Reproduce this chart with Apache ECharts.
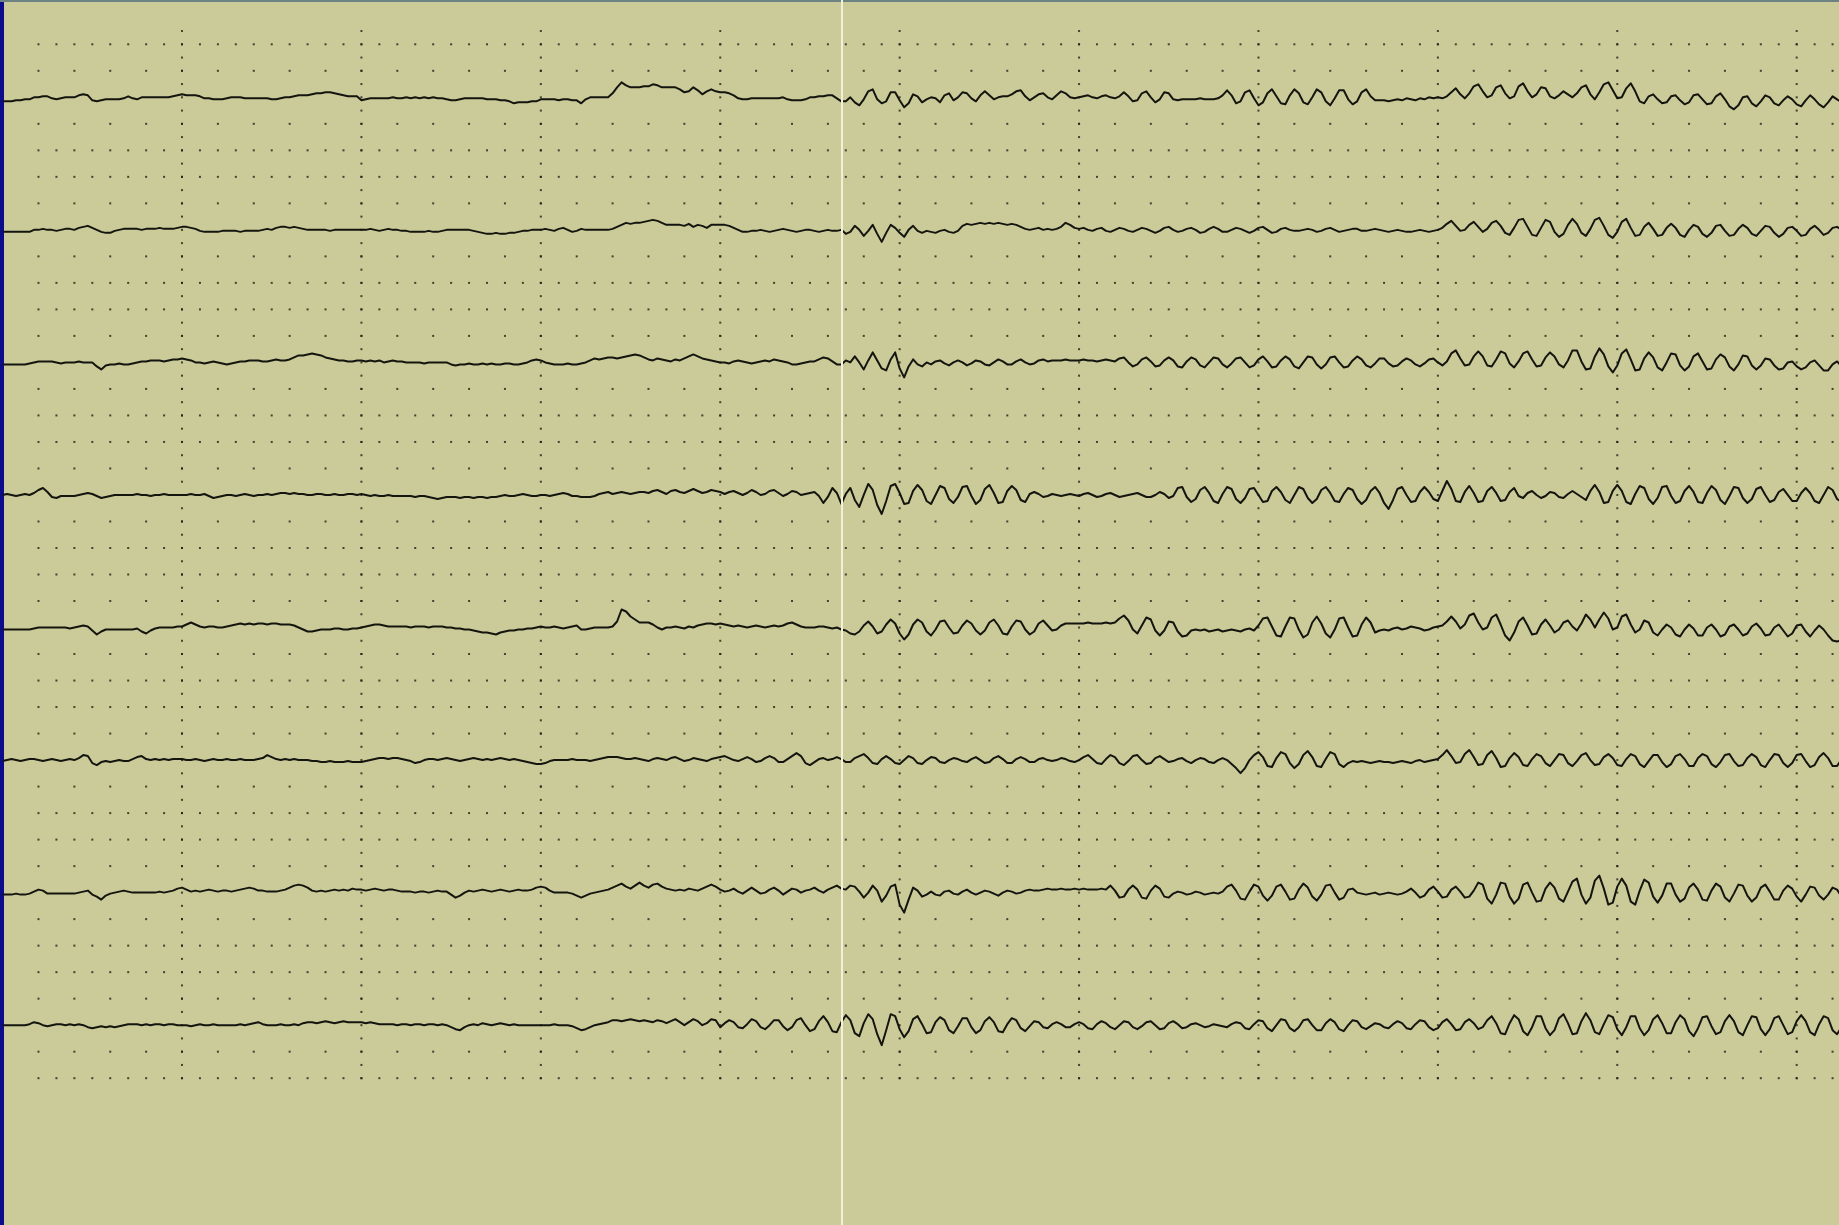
<!DOCTYPE html>
<html><head><meta charset="utf-8">
<style>html,body{margin:0;padding:0;background:#cacb99;overflow:hidden}#c{width:1839px;height:1225px}</style>
<script src="https://cdn.jsdelivr.net/npm/echarts@6/dist/echarts.min.js"></script>
</head><body><div id="c"></div>
<script>
// ---- data: 8 EEG channels, one sample every 25 ms, amplitude in display units (1 unit = 1 px up)
const SAMPLE_STEP = 0.025;      // seconds between samples
const CURSOR_T = 4.68;          // time of the cursor line (s)
const SECOND_TICKS = [1,2,3,4,5,6,7,8,9,10];

const ch1 = [
-4,-4,-4,-3,-3,-2,-2,0,0,1, 1,-1,-2,-1,0,0,0,2,3,2, -3,-4,-3,-2,-2,-2,-2,-1,1,-1, -2,0,0,0,0,0,0,0,1,2,
3,2,2,2,1,-1,-1,-2,-2,-2, -1,0,0,0,-1,-1,-1,-1,-1,-1, -2,-2,-1,0,0,1,2,2,2,3, 4,4,5,5,4,3,2,1,1,1,
-3,-2,-1,-1,-1,-1,-1,0,-1,-1, 0,-1,0,-1,0,-1,0,-1,-1,-2, -3,-3,-2,-1,-1,-1,-1,-1,-2,-2, -2,-3,-3,-4,-6,-5,-5,-5,-4,-4,
-2,-2,-2,-2,-3,-2,-2,-3,-3,-6, -2,0,0,0,0,0,4,10,15,12, 10,10,10,11,11,13,12,10,10,10, 10,8,5,6,10,7,3,6,8,6,
5,5,4,2,-1,-2,-2,-1,-1,-1, -1,-1,-1,-1,0,-2,-3,-3,-3,-2, 0,0,1,1,2,2,-1,-4,-4,0, -5,-8,-2,6,8,-2,-6,-4,5,5,
-3,-10,-6,3,1,-5,-2,0,-1,-5, 2,4,-3,0,5,4,-1,-4,2,6, 2,-2,0,1,1,3,6,7,1,-3, 0,3,4,0,-2,2,6,4,0,-1,
0,1,2,0,-1,1,2,0,-1,1, 5,1,-4,-3,4,6,0,-5,-2,5, 4,-2,-3,-2,-2,-2,-2,-1,-2,-2, -2,-1,2,7,2,-6,-4,5,7,-1,
-8,-5,4,8,1,-6,-7,2,8,4, -5,-7,0,8,5,-4,-8,-1,7,7, -2,-7,-4,5,8,1,-3,-3,-3,-4, -3,-2,-3,-1,-2,-3,-1,-2,0,-1,
0,-1,1,5,9,3,-1,4,11,13, 6,0,2,10,12,4,-1,1,11,14, 6,0,3,10,9,1,-1,2,6,3, 0,4,10,12,3,-2,5,13,15,7,
-1,0,9,14,6,-4,-6,1,3,-2, -6,-5,1,2,-3,-7,-5,2,3,-2, -7,-6,1,4,-2,-9,-12,-8,0,1, -6,-9,-4,2,0,-6,-8,-3,1,-2,
-7,-9,-3,2,-2,-7,-10,-5,1,-2,-5];

const ch2 = [
-2,-2,-2,-2,-2,-2,-2,0,0,1, 0,0,-1,0,1,1,0,2,3,4, 2,0,-2,-3,-3,-1,0,1,1,1, 1,0,1,1,1,2,1,1,1,2,
3,3,2,1,-1,-2,-2,-2,-2,-1, -1,-1,-1,-2,-1,-1,-1,-1,0,1, 0,2,3,3,2,3,2,1,0,0, 0,0,0,-1,0,0,0,0,0,0,
0,0,1,0,-1,0,1,0,0,-1, -1,-2,-2,-2,-2,-1,-2,-2,-1,0, 0,0,0,0,0,-1,-2,-3,-4,-4, -3,-4,-4,-3,-3,-2,-1,-1,0,0,
0,1,0,-1,1,2,0,-2,-1,1, 0,0,0,0,0,0,1,3,5,7, 6,7,7,8,9,10,9,7,5,5, 5,5,4,6,3,5,4,2,5,5,
5,5,4,2,0,-2,-2,-1,-1,0, -1,-2,-1,0,1,0,-1,-2,-1,0, 0,-1,-2,-1,0,-1,-1,0,-4,-2, 4,0,-6,-1,5,-4,-12,-3,5,2,
-3,-7,0,4,-1,-3,-1,-2,-3,-1, 0,-2,-3,-1,4,6,5,6,7,6, 7,6,7,6,5,6,5,3,1,0, 1,2,0,1,0,1,3,7,5,2,
1,2,0,-1,1,2,-1,-2,0,2, 1,-1,-2,0,2,1,-1,-3,-1,2, 3,0,-2,-1,1,2,0,-3,-2,1, 3,1,-2,-2,0,2,1,-1,-3,-1,
2,3,0,-3,-2,1,2,0,-1,-1, 0,1,0,-2,-1,1,2,0,-2,-1, 0,1,1,-1,-1,0,1,0,-1,-2, -1,0,-1,-2,-2,-1,0,-1,-2,-1,
0,2,6,9,4,-1,0,5,8,3, -2,1,7,9,4,-3,-5,2,10,11, 3,-5,-6,2,10,8,-2,-7,-4,5, 11,6,-3,-6,1,10,12,4,-5,-8,
-2,8,11,2,-6,-5,3,7,1,-6, -5,2,6,2,-5,-7,0,5,3,-4, -7,-3,4,5,-1,-6,-5,1,5,2, -4,-6,-1,4,3,-3,-7,-4,2,3,
-1,-6,-5,1,4,0,-5,-3,2,3,0];

const ch3 = [
-2,-2,-2,-2,-2,-2,-1,0,1,1, 1,1,0,-1,0,0,0,1,0,0, 0,-4,-7,-3,-2,-2,-1,-2,-2,-1, 0,1,1,2,2,2,1,2,3,3,
4,3,2,0,0,-1,0,1,0,-1, -2,-1,0,1,1,2,2,2,1,1, 2,3,2,2,3,5,7,7,8,9, 8,7,5,4,3,2,2,1,1,2,
2,1,2,1,2,0,1,2,1,1, 0,0,0,0,-1,0,0,0,0,0, -2,-3,-2,-2,-1,-2,-2,-1,-2,-1, -2,-2,-1,-1,-2,-2,-1,0,2,3,
2,0,-1,-2,-2,-2,-1,-2,-2,-1, 0,2,4,3,4,5,5,4,5,6, 7,8,7,5,3,2,4,3,2,1, 3,2,4,6,8,6,4,3,2,1,
0,0,-1,1,2,1,0,-1,0,1, 2,1,3,2,1,0,-2,-2,-1,0, 1,1,3,5,4,1,-2,-2,2,0, 6,0,-7,2,10,2,-6,-8,3,10,
-6,-15,-4,3,-2,-4,0,-2,1,2, -1,-3,0,2,0,-3,-1,2,1,-2, -3,0,3,1,-2,-2,1,3,0,-2, -1,2,3,1,2,2,2,3,2,2,
2,3,2,2,1,2,3,2,1,4, 5,0,-4,-2,3,5,1,-4,-3,2, 5,2,-4,-5,1,5,3,-3,-5,0, 5,4,-2,-5,-1,4,5,0,-5,-3,
3,6,1,-5,-4,2,6,3,-4,-6, 0,6,5,-2,-6,-2,5,6,0,-5, -4,2,6,3,-3,-5,-1,4,4,-1, -4,-3,1,4,2,-2,-4,-1,3,4,
0,-3,1,9,12,4,-3,-2,6,11, 6,-3,-4,3,11,9,-1,-5,1,9, 11,3,-4,-3,5,10,6,-2,-5,2, 12,12,1,-7,-6,6,14,8,-4,-10,
-3,9,13,3,-8,-7,4,10,5,-5, -8,0,9,8,-3,-8,-4,6,9,1, -7,-6,3,8,5,-4,-8,-2,7,6, -3,-7,-3,4,3,-3,-7,-6,0,1,
-4,-7,-5,0,2,-3,-8,-8,-2,1,-4];

const ch4 = [
0,1,0,-1,0,1,0,2,5,7, 3,-2,-3,-1,-1,-1,-1,0,1,2, 1,-1,-3,-2,-1,0,0,0,0,0, 1,0,0,-1,0,0,1,0,0,0,
0,0,1,0,0,1,-1,-3,-2,-1, 0,0,-1,0,1,0,-1,0,0,1, 0,1,2,2,1,2,1,1,0,0, 1,1,0,0,1,0,0,1,1,0,
1,0,-1,0,-1,-1,0,-1,-1,-1, -1,-1,-2,-1,-1,-2,-3,-4,-3,-2, -2,-2,-3,-2,-2,-3,-2,-2,-3,-2, -2,-1,0,-1,-1,0,1,0,-1,-1,
0,0,-1,0,1,2,1,-1,-1,-2, -2,-2,-1,1,2,3,1,2,3,2, 1,2,3,3,2,4,5,3,1,4, 5,3,2,4,6,4,2,3,5,4,
3,1,3,4,2,0,2,5,3,0, 1,4,5,2,-1,1,4,3,0,1, 2,3,-1,-8,-2,7,2,-9,1,7, -5,-12,0,11,5,-10,-19,-6,9,11,
2,-9,-8,4,10,5,-6,-9,0,9, 7,-4,-8,-2,8,9,-1,-9,-5,6, 10,2,-8,-7,4,9,5,-5,-7,1, 3,1,-2,-1,1,0,-1,0,1,0,
-1,1,2,0,-2,-1,1,2,0,-2, -1,0,1,2,0,-2,-2,0,3,1, -3,-1,7,8,-2,-7,-4,5,8,2, -6,-8,1,8,6,-4,-8,-3,6,7,
0,-7,-6,4,8,3,-5,-8,0,8, 6,-3,-8,-4,5,8,2,-6,-7,1, 7,5,-4,-9,-5,4,8,2,-8,-14, -5,6,8,0,-7,-6,3,8,3,-4,
-6,4,14,6,-6,-7,3,9,2,-7, -6,4,8,2,-6,-5,3,7,-1,-3, 2,4,0,-3,-1,3,2,-2,-3,1, 4,1,-2,-5,4,10,3,-8,-7,4,
10,4,-7,-9,1,9,7,-4,-9,-3, 8,9,-1,-8,-6,4,9,3,-7,-8, 2,9,5,-5,-9,-1,8,7,-3,-8, -4,6,8,0,-7,-5,3,6,0,-6,
-6,2,7,2,-6,-8,0,8,5,-4,-7];

const ch5 = [
-2,-2,-2,-2,-2,-2,-2,-1,0,0, 0,0,0,0,0,-1,0,1,2,1, -3,-7,-4,-2,-2,-2,-2,-2,-2,-2, -1,-4,-6,-3,-1,0,0,0,0,1,
1,3,5,3,1,0,1,1,0,0, 1,2,3,4,3,4,3,4,4,3, 4,4,3,3,3,2,0,-2,-4,-4, -3,-2,-2,-2,-1,-1,-2,-2,-1,-1,
0,1,2,3,3,2,1,1,1,1, 1,0,1,1,1,0,1,1,1,0, 0,-1,-1,-2,-2,-3,-4,-5,-5,-6, -7,-5,-4,-3,-3,-2,-2,-1,-1,0,
1,0,0,1,0,-1,0,1,2,-2, -2,-1,0,0,0,0,1,6,18,16, 11,8,5,5,5,3,0,-2,0,0, 1,0,-1,1,0,2,3,4,4,3,
4,3,2,1,2,1,0,1,2,1, 0,1,2,1,2,4,5,3,1,0, 0,0,1,1,0,-1,0,-2,-3,-6, -7,-4,2,6,1,-6,-4,3,8,4,
-6,-12,-7,3,8,5,-4,-8,-2,6, 7,0,-6,-5,2,7,4,-3,-7,-3, 5,8,2,-6,-7,1,7,6,-2,-7, -4,4,7,2,-3,-2,2,4,4,4,
4,4,5,4,4,4,5,4,5,9, 12,7,-2,-6,2,10,8,-3,-8,-3, 6,5,-4,-9,-8,-3,-2,-3,-2,-4, -3,-2,-4,-3,-2,-3,-4,-2,-1,-3,
2,9,10,1,-8,-9,1,10,9,-2, -10,-7,5,11,4,-6,-10,-2,9,10, 0,-9,-8,3,10,5,-5,-3,-2,-3, -1,0,-2,-1,1,0,-1,-3,-2,0,
1,2,6,11,6,-1,3,12,14,5, -2,0,10,13,3,-8,-13,-5,6,10, 2,-7,-6,3,8,2,-5,-2,5,7, 1,-3,4,13,8,0,8,15,9,-2,
0,11,13,3,-5,-2,7,5,-5,-8, -2,3,0,-7,-9,-2,3,-1,-8,-8, 0,3,-2,-9,-7,1,3,-2,-8,-6, 1,4,-1,-8,-7,0,3,-3,-9,-6,
2,3,-4,-9,-3,2,-2,-8,-13,-14,-13];

const ch6 = [
-1,0,1,0,-1,0,1,1,0,-1, 0,1,0,-1,0,1,0,2,5,4, -3,-5,-2,-1,-2,-1,0,-1,-1,1, 3,4,1,0,1,0,1,0,1,1,
1,0,0,1,0,-1,0,1,0,0, 1,0,0,1,0,0,0,1,2,5, 3,1,0,1,0,1,0,0,0,-1, -1,-2,-2,-1,-2,-2,-2,-1,-2,-2,
-2,-1,0,1,2,2,1,2,2,1, 0,-1,-3,-2,0,1,1,0,1,2, 1,0,-1,0,1,2,1,0,1,0, 1,2,1,0,1,0,-1,-2,-3,-4,
-4,-3,-1,0,0,0,0,1,0,0, 0,-1,0,1,2,3,3,3,2,1, 1,2,1,0,-1,1,2,1,0,2, 3,1,-1,0,2,1,0,-1,1,2,
3,4,2,0,-1,1,3,1,-2,-1, 2,4,2,-2,-2,1,4,7,4,-3, -5,-2,1,2,0,1,3,1,-2,-2, 2,4,6,2,-3,-4,1,4,1,-3,
-4,0,4,2,-3,-4,0,3,2,-2, -3,0,2,1,-1,-2,1,3,0,-3, -2,2,4,1,-3,-3,1,3,1,-2, -2,1,2,0,-1,0,2,1,-1,-2,
0,3,5,1,-3,-4,1,5,3,-3, -5,-1,4,5,0,-4,-3,2,4,1, -2,-1,1,2,-1,-3,0,2,1,-2, -3,0,2,0,-4,-8,-13,-8,0,5,
8,3,-6,-7,2,8,6,-3,-8,-4, 5,9,3,-6,-7,1,8,6,-4,-7, -3,-1,-2,-1,-2,-3,-2,-1,-2,-2, -3,-2,-1,-2,-3,-1,0,-2,-1,0,
1,5,10,4,-3,-2,6,10,3,-5, -4,5,9,2,-7,-6,2,7,3,-5, -6,1,6,4,-3,-6,0,6,5,-3, -6,-1,5,7,0,-5,-4,3,6,2,
-5,-6,1,6,4,-4,-7,-1,5,5, -2,-7,-4,4,6,1,-6,-6,2,6, 4,-4,-7,-2,5,6,-1,-6,-5,2, 6,3,-5,-7,0,6,5,-3,-7,-3,
5,6,-1,-7,-5,3,7,2,-6,-6,1];

const ch7 = [
-2,-2,-2,-1,-2,-2,-1,1,3,2, -1,-1,-1,-1,-1,-1,-1,0,1,2, -2,-4,-7,-3,-1,0,1,2,1,0, 0,0,0,0,0,1,0,1,2,4,
5,3,1,2,1,2,3,2,1,2, 2,1,2,3,4,5,4,2,2,1, 1,1,2,3,5,7,8,7,5,2, 1,2,1,2,3,2,3,2,4,3,
3,2,3,4,3,2,3,3,2,1, 1,1,0,1,1,0,1,2,1,1, -2,-5,-3,0,2,1,2,3,2,1, 2,3,2,1,2,3,2,2,3,5,
6,5,2,0,0,0,0,-1,-3,-5, -3,-1,0,1,2,3,5,7,9,6, 4,7,10,7,5,8,9,6,4,3, 2,3,2,4,3,2,4,6,8,6,
3,1,2,4,1,-1,2,5,2,-1, 0,3,5,2,-2,1,4,3,0,2, 3,5,2,0,3,5,7,4,3,7, 6,1,-5,0,7,2,-9,-3,6,8,
-12,-20,-7,5,2,-4,-2,1,-2,-3, 1,2,-1,-2,1,3,0,-2,0,2, 1,-1,-3,0,2,1,-1,0,2,3, 2,2,3,4,3,3,4,3,3,4,
3,4,3,3,3,4,3,7,2,-5, -4,3,7,3,-5,-6,2,7,4,-4, -5,-1,1,0,-2,-1,1,0,-2,-1, 0,-1,1,6,8,2,-6,-7,1,8,
6,-3,-8,-3,6,8,1,-7,-6,3, 9,5,-4,-8,-2,7,8,0,-7,-5, 3,4,0,-1,-2,-1,0,-2,-1,0, -1,-2,-1,1,4,0,-5,-3,3,6,
1,-5,-4,3,6,1,-5,-4,2,10, 8,-6,-11,-2,10,9,-4,-11,-6,8, 10,0,-9,-8,4,10,5,-6,-9,1, 11,14,-2,-11,-5,12,17,4,-12,-10,
6,14,7,-9,-12,2,13,10,-4,-10, -3,9,9,-2,-9,-6,5,9,3,-7, -8,2,9,6,-5,-9,-1,8,7,-3, -9,-5,5,8,1,-7,-7,2,7,4,
-4,-9,-2,6,5,-3,-7,-2,5,3,-4];

const ch8 = [
0,0,0,0,0,0,1,3,2,0, -1,0,1,1,0,1,0,1,0,-2, -3,-2,-1,-2,-1,-2,-1,0,1,1, 1,0,1,0,1,1,0,1,1,0,
0,0,-1,0,1,0,0,1,0,0, 0,0,0,1,0,1,2,3,1,0, 0,0,1,0,0,1,0,2,3,3, 2,3,4,3,2,3,4,3,3,3,
3,2,3,2,1,1,1,1,0,1, 1,0,1,1,0,1,1,0,1,0, -2,-4,-5,-2,0,1,0,2,1,0, 1,2,1,0,1,0,0,0,0,0,
0,0,0,1,0,0,0,-1,-3,-5, -4,-2,0,1,2,3,5,5,4,5, 6,5,4,5,4,3,5,4,2,4, 6,3,0,3,6,4,0,2,6,5,
-2,2,5,3,-2,-3,1,6,4,-2, -4,0,5,5,-1,-5,-2,5,7,0, -6,-4,4,9,3,-6,-7,3,10,5, -8,-11,2,11,6,-9,-20,-5,11,9,
-4,-12,-6,6,9,1,-8,-7,3,8, 5,-5,-8,-1,7,7,-2,-8,-5,4, 8,3,-6,-7,1,7,5,-3,-6,-1, 4,3,-2,-3,1,3,1,-2,-2,1,
3,1,-3,-4,1,4,2,-2,-4,0, 4,3,-2,-4,-1,3,4,0,-4,-3, 2,4,1,-3,-2,1,2,0,-2,-1, 1,0,-1,-2,1,3,2,-3,-4,1,
5,4,-3,-6,0,6,5,-3,-6,-2, 5,6,0,-5,-5,2,6,3,-4,-6, 0,5,4,-2,-4,-1,2,1,-2,-3, 1,4,2,-3,-4,1,5,4,-2,-5,
-3,3,6,1,-5,-4,3,6,2,-4, -2,5,9,2,-8,-9,2,10,6,-6, -10,-2,9,9,-3,-10,-5,7,11,2, -9,-8,4,12,5,-7,-9,1,10,8,
-4,-10,-2,9,9,-3,-10,-5,6,10, 2,-8,-8,3,10,6,-6,-11,-3,8, 9,-1,-9,-7,4,10,4,-7,-10,0, 9,8,-4,-10,-4,7,9,0,-9,-7,
4,10,4,-7,-10,1,9,7,-5,-9,-2];

const channels = [ch1, ch2, ch3, ch4, ch5, ch6, ch7, ch8];

// ---- layout / style constants
const W = 1839, H = 1225;
const PX_PER_S = 179.41, LEFT_PX = 2.6;
const ROW_PX = 26.51, ROW0_PX = 44.3, N_ROWS = 40, ROWS_PER_CH = 5, FIRST_TRACE_ROW = 2;
const X_MAX = (W - LEFT_PX) / PX_PER_S;
const Y_MIN = -ROW0_PX / ROW_PX, Y_MAX = (H - ROW0_PX) / ROW_PX;

// dotted chart paper (decoration)
const dots = [];
for (let r = 0; r < N_ROWS; r++) {
  const m = r % ROWS_PER_CH;
  if (m === FIRST_TRACE_ROW) continue;
  const step = (m === 0 || m === 4) ? 1 : 2;
  for (let k = 2; k <= 102; k += step) dots.push([k / 10, r]);
}
SECOND_TICKS.forEach(s => {
  for (let h = -1; h <= 2 * (N_ROWS - 1); h++) dots.push([s, h / 2]);
});

const series = [{
  type: 'scatter', data: dots, symbol: 'rect', symbolSize: 2, silent: true, z: 1,
  itemStyle: { color: '#1f1f17' },
  markLine: {
    silent: true, symbol: ['none', 'none'], label: { show: false },
    lineStyle: { color: '#f3f0da', width: 2, type: 'solid' },
    data: [{ xAxis: CURSOR_T }]
  }
}];
channels.forEach((vals, c) => {
  const base = FIRST_TRACE_ROW + ROWS_PER_CH * c;
  series.push({
    type: 'line', name: 'ch' + (c + 1), silent: true, z: 3,
    showSymbol: false, symbol: 'none',
    data: vals.map((v, i) => [i * SAMPLE_STEP, base - v / ROW_PX]),
    lineStyle: { color: '#15150f', width: 2, join: 'round' }
  });
});

const chart = echarts.init(document.getElementById('c'), null, { renderer: 'canvas' });
chart.setOption({
  animation: false,
  backgroundColor: '#cacb99',
  grid: { left: LEFT_PX, right: 0, top: 0, bottom: 0, containLabel: false },
  xAxis: { type: 'value', min: 0, max: X_MAX, show: false },
  yAxis: { type: 'value', min: Y_MIN, max: Y_MAX, inverse: true, show: false },
  series: series,
  graphic: [
    { type: 'rect', left: 0, top: 0, z: 100, shape: { width: 4, height: H }, style: { fill: '#0b0b8c' } },
    { type: 'rect', left: 0, top: 0, z: 100, shape: { width: W, height: 2 }, style: { fill: '#6d8282' } }
  ]
});
</script></body></html>
